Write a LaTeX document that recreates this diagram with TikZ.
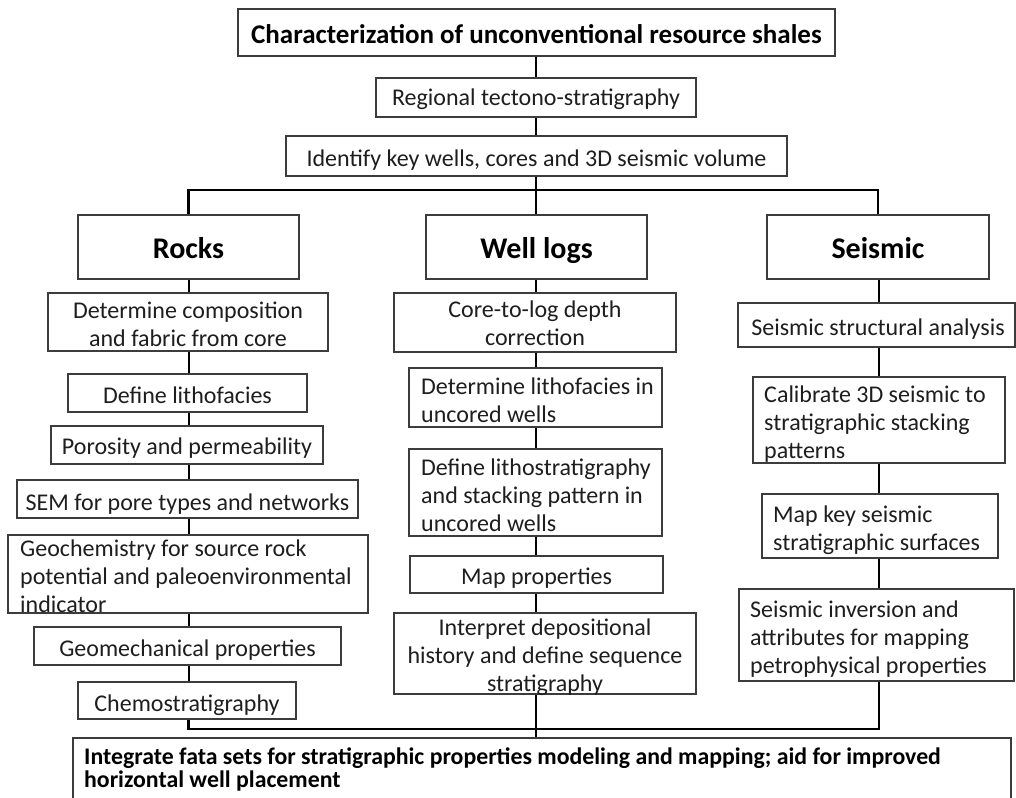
\documentclass[tikz,border=0pt]{standalone}
\usepackage{fontspec}
\setmainfont{Carlito}
\usetikzlibrary{fit}
\definecolor{boxgray}{HTML}{3C3C3C}
\definecolor{textgray}{HTML}{1E1E1E}
\tikzset{
  box/.style={draw=boxgray, line width=1.3pt, fill=white, inner sep=0pt},
  conn/.style={line width=2pt, draw=black},
  bar/.style={line width=2.8pt, draw=black},
  txt/.style={font=\fontsize{24}{28}\selectfont, text=textgray, inner sep=0pt},
  ctxt/.style={txt, align=center, anchor=base},
  ltxt/.style={txt, align=left, anchor=base west},
  btxt/.style={font=\bfseries\fontsize{27}{30}\selectfont, text=black, inner sep=0pt, align=center, anchor=base},
  htxt/.style={font=\bfseries\fontsize{30}{32}\selectfont, text=black, inner sep=0pt, align=center, anchor=base},
  ftxt/.style={font=\bfseries\fontsize{23.8}{22.5}\selectfont, text=black, inner sep=0pt, align=left, anchor=base west},
}
\newcommand\bx[5]{\node[box, fit={(#2,#3) (#4,#5)}] (#1) {};}
\begin{document}
\begin{tikzpicture}[x=1pt,y=-1pt]
\useasboundingbox[fill=white] (0,0) rectangle (1016,797);
% boxes
\bx{title}{238}{9}{835}{56}
\bx{reg}{376}{78}{696}{117}
\bx{ident}{286}{136}{787}{176}
\bx{rocks}{78}{215}{299}{279}
\bx{wl}{426}{215}{647}{279}
\bx{seis}{767}{215}{989}{279}
% left column
\bx{comp}{48}{293}{328}{351}
\bx{lith}{68}{374}{307}{412}
\bx{poro}{51}{426}{323}{464}
\bx{sem}{17}{480}{358}{518}
\bx{geo}{8}{535}{368}{613}
\bx{geomech}{34}{627}{341}{665}
\bx{chemo}{78}{682}{296}{719}
% middle column
\bx{core}{394}{293}{676}{352}
\bx{detl}{409}{368}{662}{427}
\bx{defls}{409}{449}{662}{536}
\bx{mapp}{410}{556}{663}{593}
\bx{interp}{394}{613}{696}{694}
% right column
\bx{ssa}{738}{303}{1015}{347}
\bx{calib}{753}{377}{1005}{463}
\bx{mks}{762}{494}{998}{558}
\bx{sinv}{739}{589}{1014}{681}
% final
\bx{final}{73}{738}{1011}{830}
% connectors
\coordinate (b1) at (536,190);
\coordinate (b2) at (536,729);
\draw[conn] (title.south -| b1) -- (reg.north -| b1);
\draw[conn] (reg.south -| b1) -- (ident.north -| b1);
\draw[conn] (ident.south -| b1) -- (wl.north -| b1);
\draw[bar] (rocks.north) |- (b1) -| (seis.north);
\foreach \a/\b in {rocks/comp, comp/lith, lith/poro, poro/sem, sem/geo, geo/geomech, geomech/chemo}
  \draw[conn] (\a.south -| rocks.south) -- (\b.north -| rocks.south);
\foreach \a/\b in {wl/core, core/detl, detl/defls, defls/mapp, mapp/interp}
  \draw[conn] (\a.south -| b1) -- (\b.north -| b1);
\coordinate (rx) at (879,0);
\foreach \a/\b in {seis/ssa, ssa/calib, calib/mks, mks/sinv}
  \draw[conn] (\a.south -| rx) -- (\b.north -| rx);
\draw[bar] (chemo.south -| rocks.south) |- (b2) -| (sinv.south -| rx);
\draw[conn] (interp.south -| b1) -- (final.north -| b1);
% texts (positions are last-line baselines)
\node[btxt] (titleT) at (536.5,44) {Characterization of unconventional resource shales};
\node[ctxt] (regT) at (536,106) {Regional tectono-stratigraphy};
\node[ctxt] (identT) at (536.5,166) {Identify key wells, cores and 3D seismic volume};
\node[htxt] (rocksT) at (188.5,258) {Rocks};
\node[htxt] (wlT) at (536.5,258) {Well logs};
\node[htxt] (seisT) at (878,258) {Seismic};
\node[ctxt] (compT) at (188,346) {Determine composition\\and fabric from core};
\node[ctxt] (lithT) at (187.5,403) {Define lithofacies};
\node[ctxt] (poroT) at (187,454) {Porosity and permeability};
\node[ctxt] (semT) at (187.5,510) {SEM for pore types and networks};
\node[ltxt] (geoT) at (20,612) {Geochemistry for source rock\\potential and paleoenvironmental\\indicator};
\node[ctxt] (geomechT) at (187.5,656) {Geomechanical properties};
\node[ctxt] (chemoT) at (187,711) {Chemostratigraphy};
\node[ctxt] (coreT) at (535,345) {Core-to-log depth\\correction};
\node[ltxt] (detlT) at (421,422) {Determine lithofacies in\\uncored wells};
\node[ltxt] (deflsT) at (421,531) {Define lithostratigraphy\\and stacking pattern in\\uncored wells};
\node[ctxt] (mappT) at (536.5,584) {Map properties};
\node[ctxt] (interpT) at (545,691) {Interpret depositional\\history and define sequence\\stratigraphy};
\node[ctxt] (ssaT) at (878,335) {Seismic structural analysis};
\node[ltxt] (calibT) at (764,458) {Calibrate 3D seismic to\\stratigraphic stacking\\patterns};
\node[ltxt] (mksT) at (773,550) {Map key seismic\\stratigraphic surfaces};
\node[ltxt] (sinvT) at (750,673) {Seismic inversion and\\attributes for mapping\\petrophysical properties};
\node[ftxt] (finalT) at (84,787) {Integrate fata sets for stratigraphic properties modeling and mapping; aid for improved\\horizontal well placement};
\end{tikzpicture}
\end{document}
